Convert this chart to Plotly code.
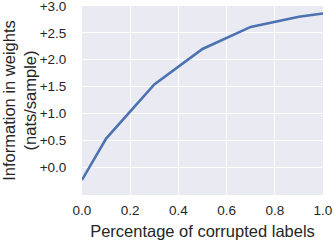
import plotly.graph_objects as go

corrupted = [0.0, 0.1, 0.3, 0.5, 0.7, 0.9, 1.0]
info = [-0.24, 0.53, 1.54, 2.20, 2.61, 2.80, 2.86]
y_ticks = [0.0, 0.5, 1.0, 1.5, 2.0, 2.5, 3.0]
y_tick_labels = ["+0.0", "+0.5", "+1.0", "+1.5", "+2.0", "+2.5", "+3.0"]
x_ticks = [0.0, 0.2, 0.4, 0.6, 0.8, 1.0]
x_tick_labels = ["0.0", "0.2", "0.4", "0.6", "0.8", "1.0"]

fig = go.Figure()
fig.add_trace(go.Scatter(x=corrupted, y=info, mode="lines",
                         line=dict(color="#4C72B0", width=2.6)))

fig.update_layout(
    width=334, height=244,
    margin=dict(l=82, r=11, t=6, b=49),
    paper_bgcolor="white", plot_bgcolor="#EAEAF2",
    showlegend=False,
    font=dict(family="Liberation Sans, Arial, sans-serif", color="#262626", size=12),
)
common = dict(showgrid=True, gridcolor="white", gridwidth=1.2, zeroline=False,
              showline=False, ticks="outside", tickcolor="rgba(0,0,0,0)",
              tickfont=dict(size=13.5), automargin=False, ticklabeloverflow="allow")
fig.update_xaxes(range=[0, 1], tickvals=x_ticks, ticktext=x_tick_labels, ticklen=3,
                 title=dict(text="Percentage of corrupted labels", font=dict(size=16.5), standoff=8),
                 **common)
fig.update_yaxes(range=[-0.52, 3.0], tickvals=y_ticks, ticktext=y_tick_labels, ticklen=12,
                 title=dict(text="Information in weights<br>(nats/sample)", font=dict(size=16.5), standoff=10),
                 **common)

fig.write_html("out.html", config={"displayModeBar": False},
               post_script="document.body.style.margin='0px';")
